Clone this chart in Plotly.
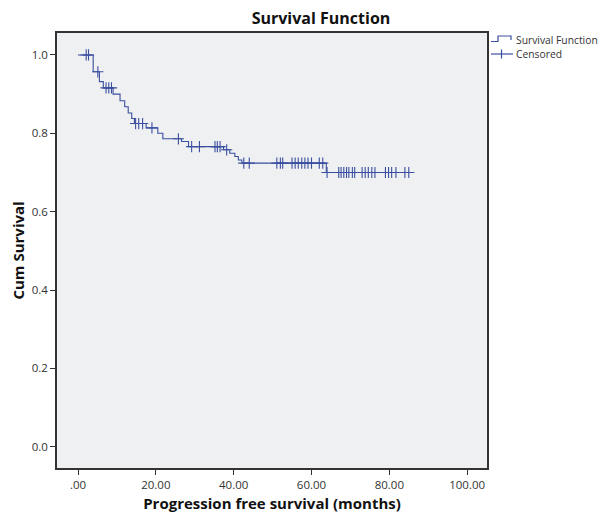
import plotly.graph_objects as go

# Kaplan-Meier step function
step_times = [0.0, 3.9, 5.5, 6.5, 9.0, 10.8, 12.0, 12.9, 13.8, 14.5, 17.5, 20.5, 21.8,
              26.6, 28.4, 37.4, 39.0, 40.3, 41.2, 42.1, 63.8]
step_surv = [1.0, 0.957, 0.932, 0.916, 0.900, 0.883, 0.868, 0.852, 0.838, 0.825, 0.814, 0.800, 0.786,
             0.779, 0.766, 0.758, 0.749, 0.741, 0.732, 0.724, 0.700]
end_time = 85.2

censor_times = [2.1, 2.7, 5.1, 7.2, 7.9, 8.6, 14.8, 15.6, 16.6, 19.0, 25.8, 29.2, 31.2,
                35.2, 35.8, 36.5, 38.2, 42.6, 44.0, 51.1, 52.0, 52.6, 55.0, 55.8, 56.6,
                57.5, 58.3, 59.1, 60.0, 62.0, 62.9, 64.0, 67.0, 67.6, 68.3, 69.0, 69.6,
                70.5, 71.1, 73.0, 73.8, 74.6, 75.5, 76.3, 79.0, 79.8, 80.6, 81.7, 84.0, 85.0]

legend_labels = ["Survival Function", "Censored"]

x_ticks = [0, 20, 40, 60, 80, 100]
x_ticktext = [".00", "20.00", "40.00", "60.00", "80.00", "100.00"]
y_ticks = [0.0, 0.2, 0.4, 0.6, 0.8, 1.0]


def surv_at(t):
    s = step_surv[0]
    for tt, ss in zip(step_times, step_surv):
        if tt <= t:
            s = ss
    return s


censor_surv = [surv_at(t) for t in censor_times]

line_x = step_times + [end_time]
line_y = step_surv + [step_surv[-1]]

blue = "#3b4fa0"

fig = go.Figure()
fig.add_trace(go.Scatter(
    x=line_x, y=line_y, mode="lines", line=dict(color=blue, width=1.1, shape="hv"),
    name=legend_labels[0], showlegend=False))
fig.add_trace(go.Scatter(
    x=censor_times, y=censor_surv, mode="markers", name=legend_labels[1], showlegend=False,
    marker=dict(symbol="cross-thin", size=8, line=dict(color=blue, width=1.1), color=blue)))

font_family = "Open Sans, DejaVu Sans, sans-serif"

# figure canvas (page has ~8px body offset)
W, H = 602, 506
L, R, T, B = 49, 123, 25, 46
PW, PH = W - L - R, H - T - B


def px(xp):  # page x -> paper x
    return (xp - 8 - L) / PW


def py(yp):  # page y -> paper y
    return (H - B - (yp - 8)) / PH


# manual legend (icons + text)
shapes = [
    dict(type="path", xref="paper", yref="paper",
         path=f"M {px(491)} {py(41.5)} L {px(498)} {py(41.5)} L {px(498)} {py(36)} "
              f"L {px(511)} {py(36)} L {px(511)} {py(40)}",
         line=dict(color=blue, width=1.2)),
    dict(type="line", xref="paper", yref="paper", x0=px(491), x1=px(513), y0=py(54), y1=py(54),
         line=dict(color=blue, width=1.2)),
    dict(type="line", xref="paper", yref="paper", x0=px(501.5), x1=px(501.5), y0=py(49.5), y1=py(58.5),
         line=dict(color=blue, width=1.2)),
]
annotations = [
    dict(text=legend_labels[0], xref="paper", yref="paper", x=px(515), y=py(40), xanchor="left",
         yanchor="middle", showarrow=False, borderpad=0, font=dict(size=10.3, color="#333333")),
    dict(text=legend_labels[1], xref="paper", yref="paper", x=px(515), y=py(54), xanchor="left",
         yanchor="middle", showarrow=False, borderpad=0, font=dict(size=10.3, color="#333333")),
]

fig.update_layout(
    width=W, height=H,
    margin=dict(l=L, r=R, t=T, b=B, autoexpand=False),
    paper_bgcolor="white", plot_bgcolor="#eff0f2",
    font=dict(family=font_family, color="#333333", size=11),
    title=dict(text="<b>Survival Function</b>", x=(321 - 8) / W, xanchor="center", y=1 - 10 / H,
               yanchor="middle", font=dict(size=16, color="#111111")),
    showlegend=False,
    shapes=shapes, annotations=annotations,
)
fig.update_xaxes(
    range=[-5.4, 105.1], tickvals=x_ticks, ticktext=x_ticktext, ticks="outside", ticklen=5,
    tickcolor="#333333", showgrid=False, zeroline=False, showline=True, linecolor="#333333",
    linewidth=1.5, mirror=True, automargin=False, tickfont=dict(size=11.5),
    title=dict(text="<b>Progression free survival (months)</b>", font=dict(size=15, color="#111111"),
               standoff=8))
fig.update_yaxes(
    range=[-0.054, 1.056], tickvals=y_ticks, tickformat=".1f", ticks="outside", ticklen=5,
    tickcolor="#333333", showgrid=False, zeroline=False, showline=True, linecolor="#333333",
    linewidth=1.5, mirror=True, automargin=False, tickfont=dict(size=11.5),
    title=dict(text="<b>Cum Survival</b>", font=dict(size=15, color="#111111"), standoff=8))

fig.write_html("out.html")
